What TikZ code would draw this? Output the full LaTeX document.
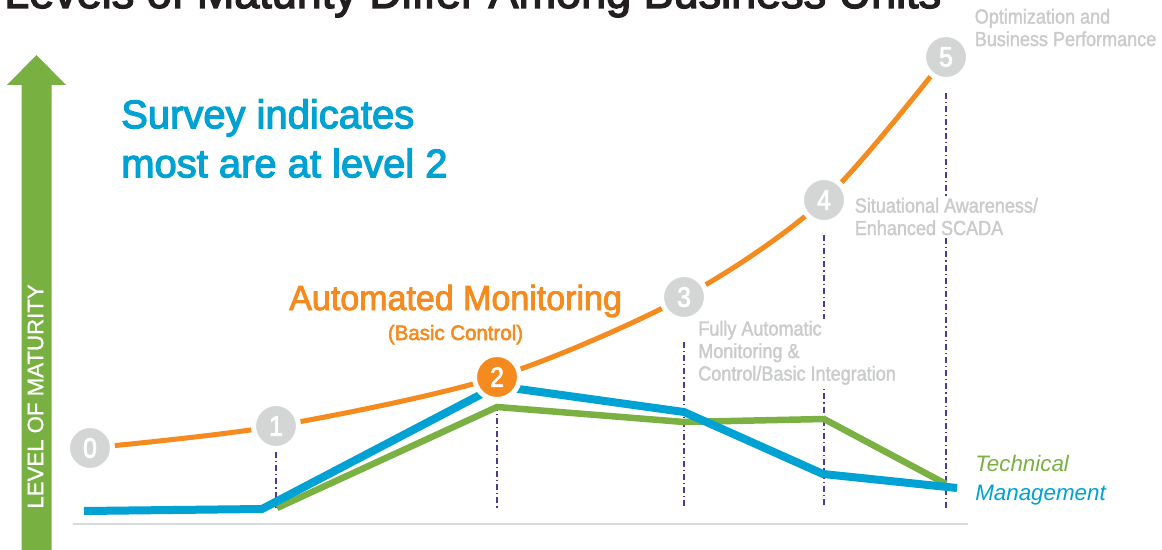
\documentclass[tikz,border=0pt]{standalone}
\usepackage{fontspec}
\setmainfont{Liberation Sans}
\newfontfamily\medfont[FakeBold=3]{Liberation Sans}
\newfontfamily\cfA[FakeStretch=0.975,FakeBold=2.5]{Liberation Sans}
\newfontfamily\cfB[FakeStretch=0.885,FakeBold=1.6]{Liberation Sans}
\newfontfamily\cfD[FakeStretch=0.88,FakeBold=2.5]{Liberation Sans}
\newfontfamily\axfont[FakeBold=1]{Liberation Sans}
\definecolor{corange}{HTML}{F58A1F}
\definecolor{cblue}{HTML}{00A1D3}
\definecolor{cgreen}{HTML}{7AB142}
\definecolor{carrow}{HTML}{79B042}
\definecolor{ccirc}{HTML}{D3D6D4}
\definecolor{clabel}{HTML}{C9CCCA}
\definecolor{cguide}{HTML}{4B3B95}
\definecolor{caxis}{HTML}{D8DBD9}
\definecolor{ctitle}{HTML}{231F20}
\newdimen\px \px=0.025cm
\tikzset{
  lvl/.style={circle, fill=ccirc, draw=white, line width=5\px, minimum size=45\px, inner sep=0pt,
    text=white, font=\cfD\fontsize{20}{20}\selectfont},
  lvlon/.style={lvl, fill=corange},
  guide/.style={cguide, line width=1.3\px, dash pattern=on 6\px off 3\px on 1.2\px off 3\px},
  orangeline/.style={corange, line width=5\px},
  blueline/.style={cblue, line width=8\px},
  greenline/.style={cgreen, line width=6.5\px},
  graylabel/.style={anchor=north west, align=left, fill=white, inner sep=2\px, text=clabel,
    font=\cfB\fontsize{14.5}{16}\selectfont},
}
\begin{document}
\begin{tikzpicture}[x=0.025cm, y=-0.025cm]
\clip (0,0) rectangle (1162,550);
\fill[white] (0,0) rectangle (1162,550);

% title (cut off at top, as in the reference)
\node[anchor=base west, inner sep=0pt, text=ctitle, font=\medfont\fontsize{32}{32}\selectfont] (title) at (4,8) {Levels of Maturity Differ Among Business Units};

% level positions
\coordinate (p0) at (90,448);
\coordinate (p1) at (276,426);
\coordinate (p2) at (497,377);
\coordinate (p3) at (684,297);
\coordinate (p4) at (824,200);
\coordinate (p5) at (946,57);

% axis baseline
\draw[caxis, line width=2\px] (73,524) -- (968,524);

% vertical guides
\draw[guide] (276,452) -- (276,508);
\draw[guide] (497,405) -- (497,508);
\draw[guide] (684,342) -- (684,508);
\draw[guide] (824,235) -- (824,508);
\draw[guide] (946,93) -- (946,508);

% data lines
\draw[greenline] (277,508) -- (497,407) -- (684,422) -- (824,419) -- (946,484);
\draw[blueline] (84,511) -- (262,509) -- (497,386) -- (684,412) -- (823,474) -- (957,488);

% maturity curve
\draw[orangeline] plot[smooth, tension=0.5] coordinates {(p0) (p1) (p2) (p3) (p4) (p5)};

% level circles
\node[lvl] (c0) at (p0) {0};
\node[lvl] (c1) at (p1) {1};
\node[lvlon] (c2) at (p2) {2};
\node[lvl] (c3) at (p3) {3};
\node[lvl] (c4) at (p4) {4};
\node[lvl] (c5) at (p5) {5};

% level labels
\node[graylabel] (l5) at (972.5,6.5) {Optimization and\\Business Performance};
\node[graylabel] (l4) at (852.5,195.5) {Situational Awareness/\\Enhanced SCADA};
\node[graylabel] (l3) at (696,318.5) {Fully Automatic\\Monitoring \&\\Control/Basic Integration};

% headline texts
\node[anchor=north west, align=left, inner sep=0pt, text=cblue, font=\medfont\fontsize{28.4}{34.9}\selectfont] (survey) at (121,99) {Survey indicates\\most are at level 2};
\node[anchor=base west, inner sep=0pt, text=corange, font=\cfA\fontsize{24.8}{24.8}\selectfont] (auto) at (289,310) {Automated Monitoring};
\node[anchor=base, inner sep=0pt, text=corange, font=\cfA\fontsize{14.9}{14.9}\selectfont] (basic) at (455.5,340) {(Basic Control)};

% legend
\node[anchor=base west, inner sep=0pt, text=cgreen, font=\itshape\fontsize{15.9}{15.9}\selectfont] (tech) at (975,471) {Technical};
\node[anchor=base west, inner sep=0pt, text=cblue, font=\itshape\fontsize{15.9}{15.9}\selectfont] (mgmt) at (975,500) {Management};

% maturity arrow
\fill[carrow] (21.5,550) -- (21.5,85) -- (7,85) -- (36.5,55) -- (66,85) -- (51.5,85) -- (51.5,550) -- cycle;
\node[rotate=90, inner sep=0pt, text=white, font=\axfont\fontsize{15.8}{15.8}\selectfont] (axislabel) at (35.5,396.5) {LEVEL OF MATURITY};
\end{tikzpicture}
\end{document}
